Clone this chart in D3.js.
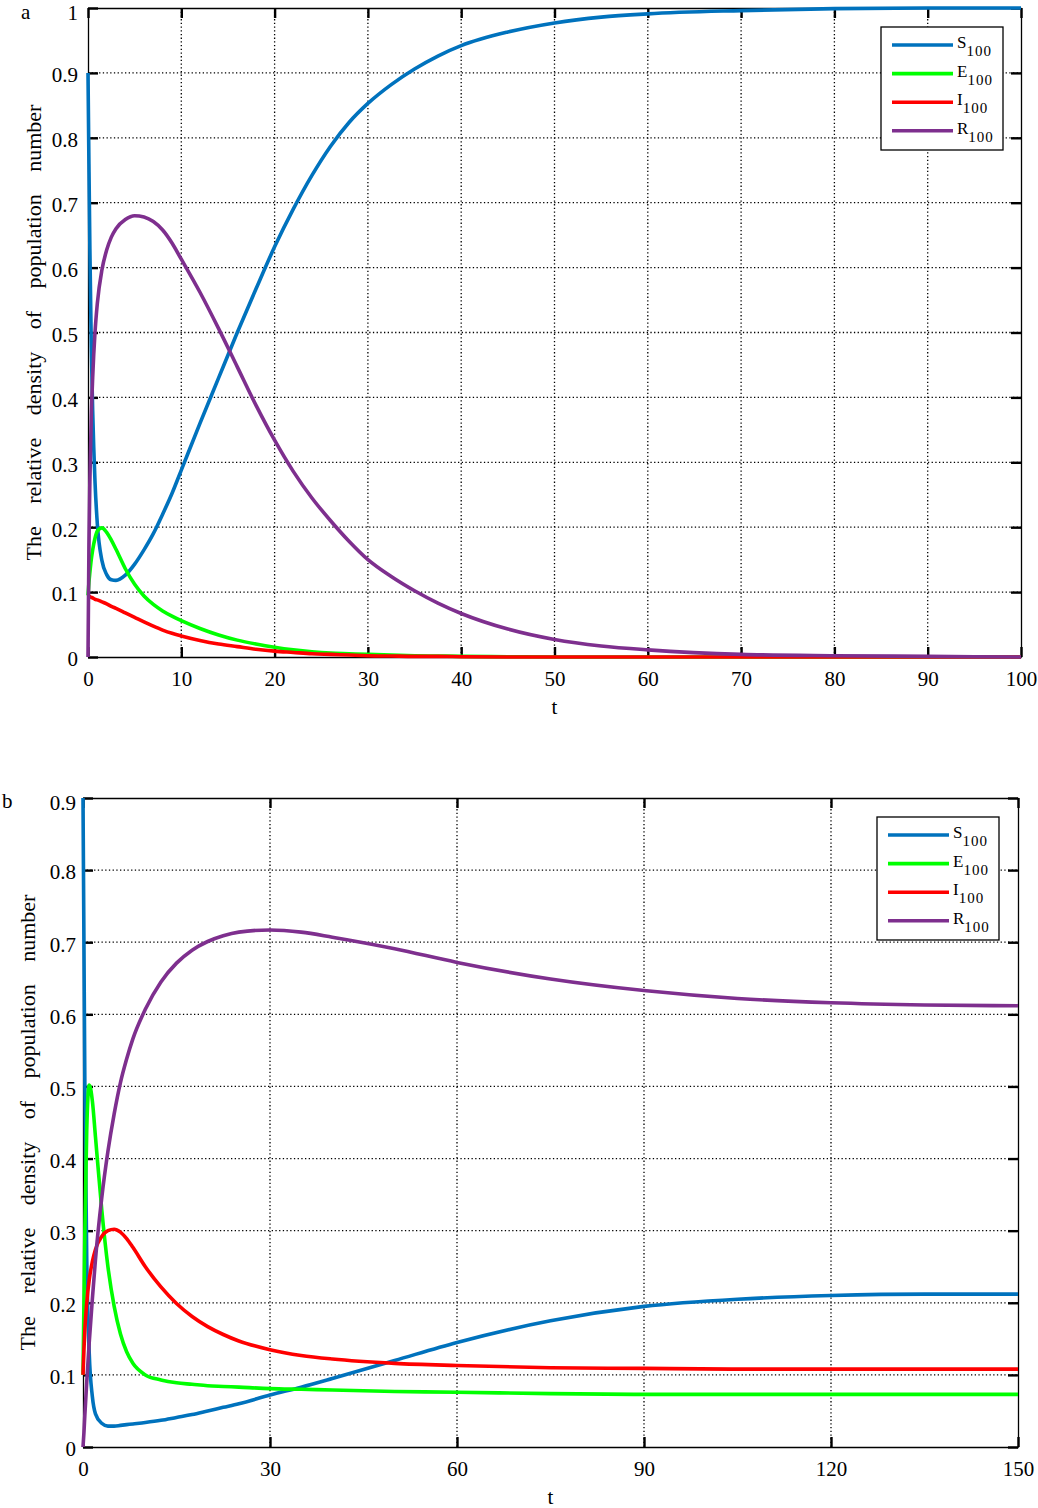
<!DOCTYPE html>
<html>
<head>
<meta charset="utf-8">
<script src="https://cdn.jsdelivr.net/npm/d3@7"></script>
<style>
  body { margin: 0; background: #fff; }
  svg text { font-family: "Liberation Serif", "Times New Roman", serif; fill: #000; }
</style>
</head>
<body>
<svg id="chart" width="1038" height="1508"></svg>
<script>
// panel a : time grid and the four densities
const tA = [0, 0.1, 0.2, 0.35, 0.5, 0.75, 1, 1.5, 2, 2.5, 3, 4, 5, 6, 7, 8, 9, 10, 12, 14, 16, 18, 20, 22, 24, 26, 28, 30, 32.5, 35, 37.5, 40, 45, 50, 55, 60, 70, 80, 90, 100];
const sA = [0.9, 0.76, 0.63, 0.48, 0.38, 0.27, 0.205, 0.148, 0.127, 0.119, 0.118, 0.126, 0.143, 0.165, 0.19, 0.22, 0.252, 0.288, 0.36, 0.43, 0.5, 0.567, 0.632, 0.69, 0.742, 0.787, 0.824, 0.853, 0.882, 0.906, 0.926, 0.942, 0.963, 0.977, 0.986, 0.991, 0.996, 0.999, 1.0, 1.0];
const eA = [0.095, 0.115, 0.13, 0.15, 0.165, 0.183, 0.194, 0.199, 0.192, 0.18, 0.166, 0.136, 0.112, 0.094, 0.081, 0.071, 0.063, 0.056, 0.044, 0.034, 0.026, 0.02, 0.015, 0.011, 0.008, 0.006, 0.005, 0.004, 0.003, 0.002, 0.0015, 0.001, 0.0005, 0, 0, 0, 0, 0, 0, 0];
const iA = [0.095, 0.094, 0.093, 0.092, 0.091, 0.089, 0.088, 0.085, 0.082, 0.078, 0.075, 0.068, 0.061, 0.054, 0.0475, 0.0415, 0.0365, 0.0325, 0.0255, 0.02, 0.016, 0.012, 0.009, 0.007, 0.005, 0.004, 0.003, 0.002, 0.0015, 0.001, 0.001, 0.0005, 0, 0, 0, 0, 0, 0, 0, 0];
const rA = [0, 0.17, 0.27, 0.37, 0.43, 0.5, 0.545, 0.597, 0.627, 0.647, 0.66, 0.674, 0.68, 0.678, 0.671, 0.658, 0.638, 0.613, 0.562, 0.506, 0.447, 0.388, 0.334, 0.286, 0.245, 0.21, 0.178, 0.15, 0.124, 0.102, 0.083, 0.067, 0.043, 0.027, 0.017, 0.011, 0.004, 0.002, 0.001, 0];

// panel b
const tB = [0, 0.15, 0.3, 0.6, 1, 1.5, 2, 3, 4, 5, 6, 7, 8, 10, 12.5, 15, 17.5, 20, 22.5, 25, 30, 35, 40, 50, 60, 75, 90, 105, 120, 135, 150];
const sB = [0.9, 0.7, 0.5, 0.26, 0.13, 0.07, 0.046, 0.033, 0.029, 0.029, 0.03, 0.031, 0.032, 0.034, 0.037, 0.041, 0.045, 0.05, 0.055, 0.06, 0.072, 0.083, 0.095, 0.12, 0.145, 0.175, 0.195, 0.205, 0.21, 0.212, 0.212];
const eB = [0.1, 0.2, 0.3, 0.44, 0.502, 0.48, 0.43, 0.33, 0.25, 0.195, 0.157, 0.132, 0.116, 0.1, 0.093, 0.089, 0.087, 0.085, 0.084, 0.083, 0.081, 0.08, 0.079, 0.077, 0.076, 0.074, 0.073, 0.073, 0.073, 0.073, 0.073];
const iB = [0.1, 0.135, 0.163, 0.2, 0.232, 0.257, 0.274, 0.292, 0.3, 0.302, 0.298, 0.289, 0.277, 0.25, 0.222, 0.199, 0.181, 0.167, 0.156, 0.147, 0.135, 0.127, 0.122, 0.116, 0.113, 0.11, 0.109, 0.108, 0.108, 0.108, 0.108];
const rB = [0, 0.02, 0.045, 0.09, 0.145, 0.205, 0.26, 0.345, 0.41, 0.462, 0.505, 0.538, 0.566, 0.607, 0.645, 0.671, 0.689, 0.701, 0.709, 0.714, 0.717, 0.714, 0.707, 0.691, 0.672, 0.649, 0.633, 0.622, 0.616, 0.613, 0.612];

const names = ['S', 'E', 'I', 'R'];
const colors = ['#0072BD', '#00FF00', '#FF0000', '#7E2F8E'];
const xTicksA = [0, 10, 20, 30, 40, 50, 60, 70, 80, 90, 100];
const xTicksB = [0, 30, 60, 90, 120, 150];
const yTicksA = [0, 0.1, 0.2, 0.3, 0.4, 0.5, 0.6, 0.7, 0.8, 0.9, 1];
const yTicksB = [0, 0.1, 0.2, 0.3, 0.4, 0.5, 0.6, 0.7, 0.8, 0.9];
const yTitle = 'The relative density of population number';

const svg = d3.select('#chart');

function drawPanel(p){
	const x = d3.scaleLinear().domain([p.xTicks[0], p.xTicks[p.xTicks.length-1]]).range([p.left, p.right]);
	const y = d3.scaleLinear().domain([0, p.yTicks[p.yTicks.length-1]]).range([p.bottom, p.top]);
	const g = svg.append('g');

	// dotted grid
	g.append('g').selectAll('line')
		.data(p.xTicks.slice(1, -1))
		.enter().append('line')
			.attr('x1', d => x(d)).attr('x2', d => x(d))
			.attr('y1', p.top).attr('y2', p.bottom)
			.style('stroke', '#000').style('stroke-width', 1.3)
			.style('stroke-dasharray', '1.3,2.4');
	g.append('g').selectAll('line')
		.data(p.yTicks.slice(1, -1))
		.enter().append('line')
			.attr('x1', p.left).attr('x2', p.right)
			.attr('y1', d => y(d)).attr('y2', d => y(d))
			.style('stroke', '#000').style('stroke-width', 1.3)
			.style('stroke-dasharray', '1.3,2.4');

	// axes with inward ticks on all four sides
	const tick = 10;
	const axes = [];
	axes.push(g.append('g').attr('transform', 'translate(0,' + p.bottom + ')')
		.call(d3.axisBottom(x).tickValues(p.xTicks).tickSizeInner(-tick).tickSizeOuter(0).tickPadding(14).tickFormat(d3.format('d'))));
	axes.push(g.append('g').attr('transform', 'translate(0,' + p.top + ')')
		.call(d3.axisTop(x).tickValues(p.xTicks).tickSizeInner(-tick).tickSizeOuter(0).tickFormat('')));
	axes.push(g.append('g').attr('transform', 'translate(' + p.left + ',0)')
		.call(d3.axisLeft(y).tickValues(p.yTicks).tickSizeInner(-tick).tickSizeOuter(0).tickPadding(p.yPad).tickFormat(d => String(+d.toFixed(1)))));
	axes.push(g.append('g').attr('transform', 'translate(' + p.right + ',0)')
		.call(d3.axisRight(y).tickValues(p.yTicks).tickSizeInner(-tick).tickSizeOuter(0).tickFormat('')));
	axes.forEach(a => a.attr('font-family', '"Liberation Serif", "Times New Roman", serif').attr('font-size', 21));
	const topVal = p.yTicks[p.yTicks.length-1];
	axes[2].selectAll('.tick text').attr('dy', d => d === topVal ? '0.56em' : '0.42em');
	g.selectAll('.domain').style('stroke', '#000').style('stroke-width', 1.3);
	g.selectAll('.tick line').style('stroke', '#000').style('stroke-width', 2.4);

	// series
	const line = d3.line()
		.x(d => x(d[0]))
		.y(d => y(d[1]))
		.curve(d3.curveMonotoneX);
	const plot = g.append('g');
	p.series.forEach(function(vals, k){
		plot.append('path')
			.datum(p.t.map((t, j) => [t, vals[j]]))
			.attr('d', line)
			.style('fill', 'none')
			.style('stroke', colors[k])
			.style('stroke-width', 3.6)
			.style('stroke-linejoin', 'round');
	});

	// axis titles
	g.append('text')
		.attr('x', (p.left + p.right) / 2).attr('y', p.bottom + 57)
		.attr('text-anchor', 'middle').style('font-size', '21px')
		.text('t');
	g.append('text')
		.attr('transform', 'translate(' + p.titleX + ',' + ((p.top + p.bottom) / 2) + ') rotate(-90)')
		.attr('text-anchor', 'middle').style('font-size', '22px').style('word-spacing', '17px')
		.text(yTitle);
	g.append('text')
		.attr('x', p.labelX).attr('y', p.labelY)
		.style('font-size', '21px')
		.text(p.label);

	// legend
	const lg = g.append('g').attr('transform', 'translate(' + p.legX + ',' + p.legY + ')');
	lg.append('rect')
		.attr('width', 122).attr('height', 123)
		.style('fill', '#fff').style('stroke', '#000').style('stroke-width', 1.3);
	names.forEach(function(n, k){
		const cy = 18 + k * 28.6;
		lg.append('line')
			.attr('x1', 11).attr('x2', 72).attr('y1', cy).attr('y2', cy)
			.style('stroke', colors[k]).style('stroke-width', 3.6);
		const txt = lg.append('text').attr('x', 76).attr('y', cy + 3).style('font-size', '17px');
		txt.append('tspan').text(n);
		txt.append('tspan').attr('dy', 8).style('font-size', '15px').style('letter-spacing', '1px').text('100');
	});
}

drawPanel({
	t: tA, series: [sA, eA, iA, rA],
	xTicks: xTicksA, yTicks: yTicksA,
	left: 88, right: 1021, top: 8, bottom: 657,
	titleX: 41, yPad: 10,
	label: 'a', labelX: 21, labelY: 19,
	legX: 881, legY: 27
});

drawPanel({
	t: tB, series: [sB, eB, iB, rB],
	xTicks: xTicksB, yTicks: yTicksB,
	left: 83, right: 1018, top: 798, bottom: 1447,
	titleX: 35, yPad: 7,
	label: 'b', labelX: 2, labelY: 808,
	legX: 877, legY: 817
});
</script>
</body>
</html>
